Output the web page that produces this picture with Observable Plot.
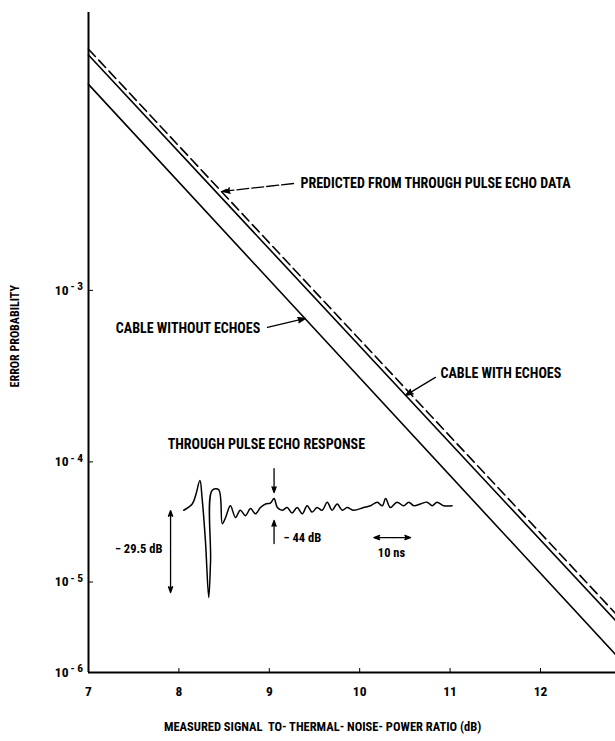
<!DOCTYPE html>
<html><head><meta charset="utf-8">
<script src="https://cdn.jsdelivr.net/npm/d3@7"></script>
<script src="https://cdn.jsdelivr.net/npm/@observablehq/plot@0.6"></script>
<style>
html,body{margin:0;padding:0;background:#fff;}
#chart svg{display:block;font-family:"Liberation Sans Narrow","Roboto Condensed","DejaVu Sans Condensed","Arial Narrow",sans-serif;font-weight:bold;font-stretch:condensed;}
</style></head><body><div id="chart"></div>
<script>
// ---- axis ticks ----
const xTicks = [7, 8, 9, 10, 11, 12];
const yTicks = [1e-3, 1e-4, 1e-5, 1e-6];

// ---- curves: end points (dB, error probability) ----
const curveNames = ["CABLE WITHOUT ECHOES", "CABLE WITH ECHOES", "PREDICTED FROM THROUGH PULSE ECHO DATA"];
const curveDb = [[7, 12.83], [7, 12.83], [7, 12.83]];
const curveP  = [[6.2e-3, 1.66e-6], [7.6e-3, 4.03e-6], [7.9e-3, 4.8e-6]];

// ---- inset: through pulse echo response (time ns, relative amplitude) ----
const waveT = [0, 2.3, 3.2, 4.4, 5.0, 5.9, 6.8, 7.3, 7.7, 9.5, 10.5, 11.4, 12.7, 14.1, 15.4, 16.8, 18.2, 19.5, 20.9, 22.3, 23.6, 24.6, 25.5, 26.8, 28.2, 29.5, 30.9, 32.3, 33.6, 35.0, 36.3, 37.7, 39.1, 40.4, 41.8, 43.2, 44.5, 46.3, 49.0, 50.9, 52.7, 54.1, 55.0, 56.3, 58.1, 59.9, 61.3, 62.7, 64.5, 66.3, 67.7, 69.0, 70.8, 73.1];
const waveV = [-0.03, 0.04, 0.13, 0.30, 0.10, -0.37, -1.00, -0.59, 0.19, 0.20, -0.18, -0.11, 0.02, -0.11, -0.03, -0.09, -0.01, -0.07, 0.00, 0.04, 0.05, 0.10, 0.00, -0.03, 0.00, -0.06, 0.00, -0.07, 0.02, -0.05, 0.00, -0.03, 0.06, -0.03, 0.04, -0.03, 0.00, -0.03, 0.00, 0.02, 0.06, 0.02, 0.10, 0.00, 0.06, 0.02, 0.06, 0.02, 0.04, 0.06, 0.02, 0.06, 0.02, 0.02];

// ---- annotations (dB, probability) ----
const labelText = ["PREDICTED FROM THROUGH PULSE ECHO DATA", "CABLE WITHOUT ECHOES", "CABLE WITH ECHOES"];
const labelDb = [9.345, 8.90, 10.894];
const labelP = [2.84e-3, 6.47e-4, 3.68e-4];
const arrowDb = [[9.268, 8.482], [8.98, 9.40], [10.838, 10.507]];
const arrowP = [[2.84e-3, 2.65e-3], [6.55e-4, 7.28e-4], [3.49e-4, 2.73e-4]];

// ---- inset annotations (ns, relative amplitude) ----
const insetTitle = "THROUGH PULSE ECHO RESPONSE";
const insetLabels = ["− 29.5 dB", "− 44 dB", "10 ns"];
const insetLabelT = [-5.8, 27.2, 56.6];
const insetLabelV = [-0.456, -0.333, -0.51];

// probability axis transform (straight-line error-probability paper)
const tf = p => Math.pow(-Math.log10(p), -0.4);

// inset placement on the chart
const insetOrigin = {db: 8.054, p: 4.53e-5};
const nsToDb = 0.0406, ampToG = 0.03675;
const ix = t => insetOrigin.db + t * nsToDb;
const iy = v => tf(insetOrigin.p) + v * ampToG;

const curves = curveNames.flatMap((name, i) => curveDb[i].map((db, j) => ({name, db, g: tf(curveP[i][j])})));
const wave = waveT.map((t, i) => ({db: ix(t), g: iy(waveV[i])}));
const labels = labelText.map((text, i) => ({text, db: labelDb[i], g: tf(labelP[i])}));
const arrows = arrowDb.map((a, i) => ({x1: a[0], x2: a[1], y1: tf(arrowP[i][0]), y2: tf(arrowP[i][1])}));

// inset arrows: [t1, v1, t2, v2]
const insetArrowsSpec = [
  [-3.6, -0.49, -3.6, -0.033], [-3.6, -0.49, -3.6, -0.944],
  [24.6, 0.433, 24.6, 0.167], [24.6, -0.40, 24.6, -0.144],
  [56.8, -0.333, 51.8, -0.333], [56.8, -0.333, 61.8, -0.333]
];
const insetArrows = insetArrowsSpec.map(([t1, v1, t2, v2]) => ({x1: ix(t1), y1: iy(v1), x2: ix(t2), y2: iy(v2)}));
const insetTexts = insetLabels.map((text, i) => ({text, db: ix(insetLabelT[i]), g: iy(insetLabelV[i])}));

const fs = 14;
const arrowStyle = {x1: "x1", y1: "y1", x2: "x2", y2: "y2", stroke: "black", fill: "black", strokeWidth: 1.3, headAngle: 40};
const chart = Plot.plot({
  width: 615, height: 741,
  marginLeft: 88, marginRight: 0, marginTop: 12, marginBottom: 69,
  x: {domain: [7, 12.83]},
  y: {domain: [tf(1e-6), tf(1e-2)]},
  style: {background: "white", color: "black", fontSize: fs + "px"},
  marks: [
    Plot.axisX({ticks: xTicks, tickFormat: d3.format("d"), tickSize: -4, tickPadding: 18, label: null, fontSize: 13.5}),
    Plot.axisY({ticks: yTicks.map(tf), tickFormat: () => "", tickSize: -5, label: null}),
    Plot.text(yTicks, {x: 7, y: tf, text: () => "10", textAnchor: "end", dx: -20, fontSize: 13.5}),
    Plot.text(yTicks, {x: 7, y: tf, text: p => "- " + Math.round(-Math.log10(p)), textAnchor: "start", dx: -18, dy: -4, fontSize: 11.5}),
    Plot.ruleX([7], {strokeWidth: 2}),
    Plot.ruleY([tf(1e-6)], {strokeWidth: 2}),
    Plot.line(curves.filter(d => d.name !== curveNames[2]), {x: "db", y: "g", z: "name", stroke: "black", strokeWidth: 1.6}),
    Plot.line(curves.filter(d => d.name === curveNames[2]), {x: "db", y: "g", stroke: "black", strokeWidth: 1.6, strokeDasharray: "10,5"}),
    Plot.line(wave, {x: "db", y: "g", stroke: "black", strokeWidth: 1.5, curve: "catmull-rom"}),
    Plot.text(labels.slice(0, 1), {x: "db", y: "g", text: "text", textAnchor: "start", fontSize: fs}),
    Plot.text(labels.slice(1, 2), {x: "db", y: "g", text: "text", textAnchor: "end", fontSize: fs}),
    Plot.text(labels.slice(2, 3), {x: "db", y: "g", text: "text", textAnchor: "start", fontSize: fs}),
    Plot.arrow(arrows.slice(0, 1), {...arrowStyle, headLength: 9, strokeDasharray: "12,3"}),
    Plot.arrow(arrows.slice(1), {...arrowStyle, headLength: 9}),
    Plot.arrow(insetArrows, {...arrowStyle, headLength: 7}),
    Plot.text([insetTitle], {x: ix(22.5), y: iy(0.70), text: d => d, textAnchor: "middle", fontSize: fs}),
    Plot.text(insetTexts.slice(0, 1), {x: "db", y: "g", text: "text", textAnchor: "end", fontSize: 12.5}),
    Plot.text(insetTexts.slice(1, 2), {x: "db", y: "g", text: "text", textAnchor: "start", fontSize: 12.5}),
    Plot.text(insetTexts.slice(2, 3), {x: "db", y: "g", text: "text", textAnchor: "middle", fontSize: 12.5}),
    Plot.text(["ERROR PROBABILITY"], {frameAnchor: "left", y: tf(3.05e-4), dx: -73, rotate: -90, text: d => d, fontSize: 12}),
    Plot.text(["MEASURED SIGNAL  TO- THERMAL- NOISE- POWER RATIO (dB)"], {frameAnchor: "bottom", x: 9.59, dy: 58, text: d => d, fontSize: 12.5})
  ]
});
document.getElementById("chart").append(chart);
</script>
</body></html>
